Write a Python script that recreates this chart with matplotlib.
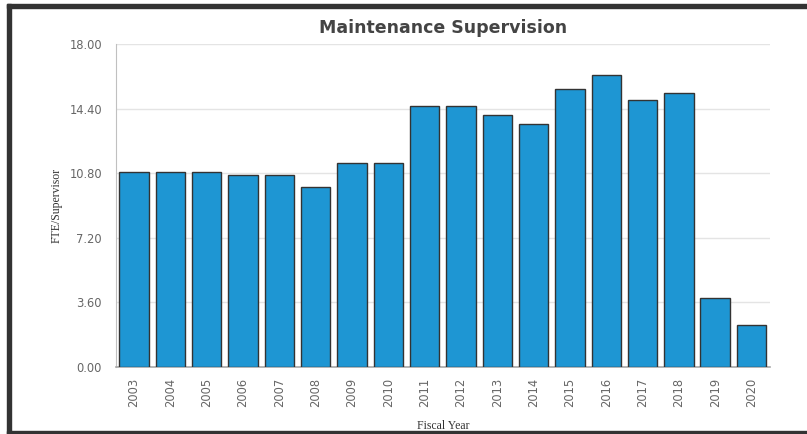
import matplotlib
matplotlib.use("Agg")
import matplotlib.pyplot as plt
from matplotlib.patches import Rectangle

years = [str(y) for y in range(2003, 2021)]
fte = [10.85, 10.85, 10.85, 10.70, 10.70, 10.02, 11.37, 11.37, 14.54,
       14.54, 14.04, 13.53, 15.49, 16.27, 14.89, 15.26, 3.85, 2.33]
yticks = [0.0, 3.6, 7.2, 10.8, 14.4, 18.0]

fig = plt.figure(figsize=(8.07, 4.34), dpi=100)
ax = fig.add_axes([0.1437, 0.155, 0.81, 0.743])

x = range(len(years))
ax.bar(x, fte, width=0.81, color="#1e96d3", edgecolor="#333333",
       linewidth=1.0, zorder=3)

ax.set_xlim(-0.5, len(years) - 0.5)
ax.set_ylim(0, 18)
ax.set_yticks(yticks)
ax.set_yticklabels(["%.2f" % v for v in yticks])
ax.set_xticks(list(x))
ax.set_xticklabels(years, rotation=90)
ax.tick_params(axis="both", length=0, labelsize=8.3, colors="#666666")
ax.tick_params(axis="y", pad=10)
ax.tick_params(axis="x", pad=8)

ax.grid(axis="y", color="#e4e4e4", linewidth=1, zorder=0)
for s in ["top", "right"]:
    ax.spines[s].set_visible(False)
ax.spines["left"].set_color("#c0c0c0")
ax.spines["bottom"].set_color("#a8a8a8")
ax.spines["bottom"].set_linewidth(1.2)

ax.set_title("Maintenance Supervision", fontsize=12.5, fontweight="bold",
             color="#444444", pad=8)
ax.set_ylabel("FTE/Supervisor", family="Liberation Serif", fontsize=8.5,
              color="#333333", labelpad=5)
ax.set_xlabel("Fiscal Year", family="Liberation Serif", fontsize=8.5,
              color="#333333", labelpad=9)

# dark frame around the panel (left, top, bottom)
fig.patches.append(Rectangle((7 / 807, 0), 4 / 807, 1 - 4 / 434,
                             transform=fig.transFigure, color="#333333"))
fig.patches.append(Rectangle((7 / 807, 1 - 8 / 434), 1, 4 / 434,
                             transform=fig.transFigure, color="#333333"))
fig.patches.append(Rectangle((7 / 807, 0), 1, 3 / 434,
                             transform=fig.transFigure, color="#333333"))

fig.savefig("out.png", dpi=100)
